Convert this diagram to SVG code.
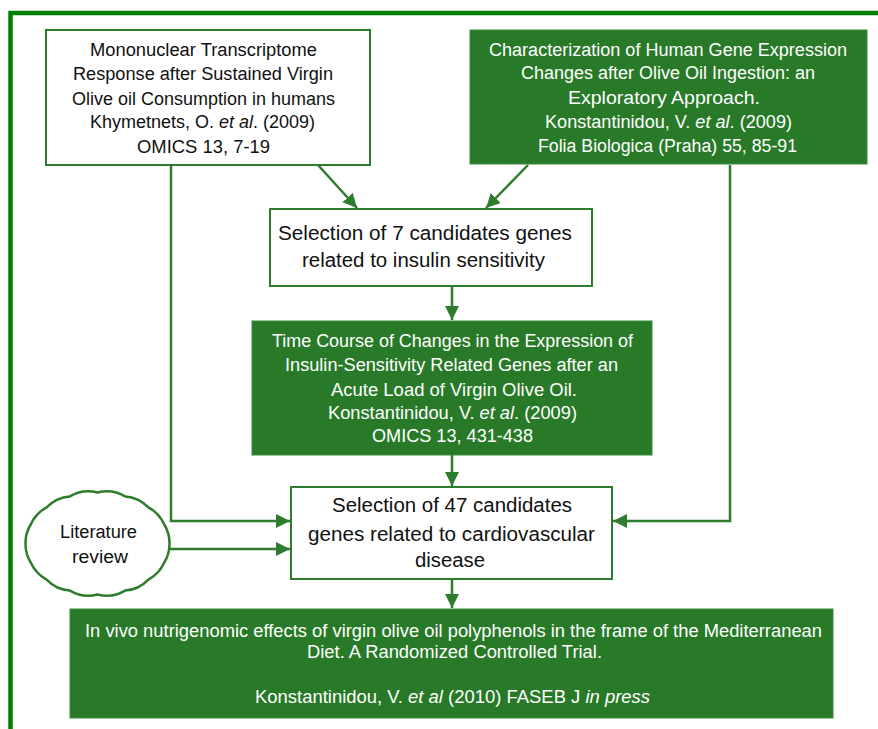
<svg xmlns="http://www.w3.org/2000/svg" width="878" height="729" viewBox="0 0 878 729">
<defs>
<style>
.wbox{fill:#ffffff;stroke:#2e7d2e;stroke-width:2}
.gbox{fill:#287a28;stroke:#3a8a3a;stroke-width:1}
.t{font-family:"Liberation Sans",Arial,sans-serif;font-size:18px;fill:#111111}
.tw{font-family:"Liberation Sans",Arial,sans-serif;font-size:18px;fill:#ffffff}
.big{font-size:20px}
.sm{font-size:17.5px}
.it{font-style:italic}
.con{fill:none;stroke:#2e7d2e;stroke-width:2.5}
</style>
<marker id="ah" markerUnits="userSpaceOnUse" markerWidth="15" markerHeight="15" refX="14" refY="7" orient="auto">
<path d="M0,0 L14,7 L0,14 z" fill="#2e7d2e"/>
</marker>
</defs>
<rect width="878" height="729" fill="#ffffff"/>
<g id="frame">
<path d="M10.5,729 V13 H878" fill="none" stroke="#008000" stroke-width="4.5"/>
</g>
<g id="connectors">
<path class="con" d="M318,165 L357,208" marker-end="url(#ah)"/>
<path class="con" d="M528,165 L486,208" marker-end="url(#ah)"/>
<path class="con" d="M452,286 V320" marker-end="url(#ah)"/>
<path class="con" d="M452,455 V486" marker-end="url(#ah)"/>
<path class="con" d="M171,165 V521 H290" marker-end="url(#ah)"/>
<path class="con" d="M170,549 H290" marker-end="url(#ah)"/>
<path class="con" d="M730,165 V521 H613" marker-end="url(#ah)"/>
<path class="con" d="M452,579 V608" marker-end="url(#ah)"/>
</g>
<g id="node-mononuclear">
<rect class="wbox" x="46" y="30" width="324" height="135"/>
<text class="t" x="90" y="56" textLength="227" lengthAdjust="spacingAndGlyphs">Mononuclear Transcriptome</text>
<text class="t" x="73" y="80" textLength="260" lengthAdjust="spacingAndGlyphs">Response after Sustained Virgin</text>
<text class="t" x="72" y="105" textLength="263" lengthAdjust="spacingAndGlyphs">Olive oil Consumption in humans</text>
<text class="t" x="90" y="128" textLength="225" lengthAdjust="spacingAndGlyphs">Khymetnets, O. <tspan class="it">et al</tspan>. (2009)</text>
<text class="t" x="137" y="153" textLength="133" lengthAdjust="spacingAndGlyphs">OMICS 13, 7-19</text>
</g>
<g id="node-characterization">
<rect class="gbox" x="470" y="30" width="397" height="134"/>
<text class="tw" x="489" y="56" textLength="358" lengthAdjust="spacingAndGlyphs">Characterization of Human Gene Expression</text>
<text class="tw" x="521" y="79" textLength="294" lengthAdjust="spacingAndGlyphs">Changes after Olive Oil Ingestion: an</text>
<text class="tw" x="568" y="104" textLength="192" lengthAdjust="spacingAndGlyphs">Exploratory  Approach.</text>
<text class="tw" x="545" y="128" textLength="247" lengthAdjust="spacingAndGlyphs">Konstantinidou, V. <tspan class="it">et al</tspan>. (2009)</text>
<text class="tw" x="538" y="152" textLength="259" lengthAdjust="spacingAndGlyphs">Folia Biologica (Praha) 55, 85-91</text>
</g>
<g id="node-selection7">
<rect class="wbox" x="270" y="209" width="322" height="77"/>
<text class="t big" x="278" y="240" textLength="294" lengthAdjust="spacingAndGlyphs">Selection of 7 candidates genes</text>
<text class="t big" x="302" y="267" textLength="243" lengthAdjust="spacingAndGlyphs">related to insulin sensitivity</text>
</g>
<g id="node-timecourse">
<rect class="gbox" x="252" y="321" width="400" height="134"/>
<text class="tw" x="272" y="347" textLength="361" lengthAdjust="spacingAndGlyphs">Time Course of Changes in the Expression of</text>
<text class="tw" x="285" y="371" textLength="333" lengthAdjust="spacingAndGlyphs">Insulin-Sensitivity Related Genes after an</text>
<text class="tw" x="331" y="396" textLength="246" lengthAdjust="spacingAndGlyphs">Acute Load of Virgin Olive Oil.</text>
<text class="tw" x="328" y="419" textLength="249" lengthAdjust="spacingAndGlyphs">Konstantinidou, V. <tspan class="it">et al</tspan>. (2009)</text>
<text class="tw" x="372" y="442" textLength="161" lengthAdjust="spacingAndGlyphs">OMICS 13, 431-438</text>
</g>
<g id="node-literature">
<path d="M169.5,543.5 A36,36 0 0 1 164,563 A36,36 0 0 1 148.4,579.6 A36,36 0 0 1 125.1,590.6 A36,36 0 0 1 97.5,594.5 A36,36 0 0 1 69.9,590.6 A36,36 0 0 1 46.6,579.6 A36,36 0 0 1 31,563 A36,36 0 0 1 25.5,543.5 A36,36 0 0 1 31,524 A36,36 0 0 1 46.6,507.4 A36,36 0 0 1 69.9,496.4 A36,36 0 0 1 97.5,492.5 A36,36 0 0 1 125.1,496.4 A36,36 0 0 1 148.4,507.4 A36,36 0 0 1 164,524 A36,36 0 0 1 169.5,543.5 z" fill="#ffffff" stroke="#2e7d2e" stroke-width="2.5"/>
<text class="t" x="60" y="538" textLength="77" lengthAdjust="spacingAndGlyphs">Literature</text>
<text class="t" x="72" y="563" textLength="56" lengthAdjust="spacingAndGlyphs">review</text>
</g>
<g id="node-selection47">
<rect class="wbox" x="291" y="487" width="321" height="92"/>
<text class="t big" x="332" y="512" textLength="240" lengthAdjust="spacingAndGlyphs">Selection of 47 candidates</text>
<text class="t big" x="308" y="541" textLength="287" lengthAdjust="spacingAndGlyphs">genes related to cardiovascular</text>
<text class="t big" x="415" y="567" textLength="70" lengthAdjust="spacingAndGlyphs">disease</text>
</g>
<g id="node-invivo">
<rect class="gbox" x="70" y="609" width="763" height="109"/>
<text class="tw sm" x="85" y="637" textLength="737" lengthAdjust="spacingAndGlyphs">In vivo nutrigenomic effects  of virgin olive oil polyphenols in the frame of the Mediterranean</text>
<text class="tw sm" x="307" y="658" textLength="295" lengthAdjust="spacingAndGlyphs">Diet. A Randomized Controlled Trial.</text>
<text class="tw sm" x="255" y="703" textLength="395" lengthAdjust="spacingAndGlyphs">Konstantinidou, V. <tspan class="it">et al</tspan> (2010) FASEB J <tspan class="it">in press</tspan></text>
</g>
</svg>
